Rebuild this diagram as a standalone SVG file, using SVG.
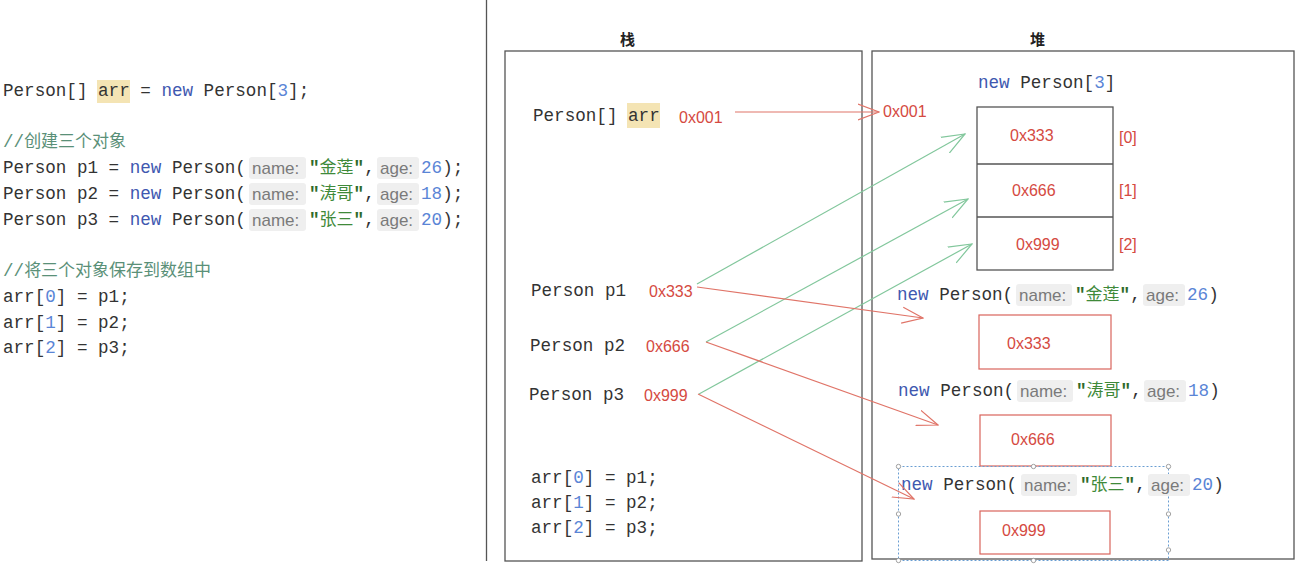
<svg xmlns="http://www.w3.org/2000/svg" width="1303" height="572" viewBox="0 0 1303 572">
<style>
.m{font-family:"Liberation Mono","Courier New",monospace;font-size:17.6px;fill:#333}
.kw{fill:#4058b0}
.num{fill:#5a85d6}
.str{fill:#3f8a3a}
.q{font-weight:bold;fill:#2f6a2a}
.cjk{font-family:"Noto Sans CJK SC",sans-serif;font-size:17px}
.cm{font-family:"Liberation Mono","Noto Sans CJK SC",monospace;font-size:17.6px;fill:#5a9078}
.hint{font-family:"Liberation Sans","Noto Sans",sans-serif;font-size:17px;fill:#7a7a7a}
.hbg{fill:#efefef}
.hl{fill:#f4e4b4}
.addr{font-family:"Liberation Sans","Noto Sans",sans-serif;font-size:16px;fill:#d54a42}
.box{fill:none;stroke:#555;stroke-width:1.3}
.rbox{fill:none;stroke:#d9645c;stroke-width:1.2}
.title{font-family:"Noto Sans CJK SC",sans-serif;font-size:15px;font-weight:bold;fill:#222}
.ra{fill:none;stroke:#e07468;stroke-width:1.2}
.ga{fill:none;stroke:#82c79c;stroke-width:1.2}
.sel{fill:none;stroke:#6a9ed2;stroke-width:1;stroke-dasharray:2 2}
.hd{fill:#fff;stroke:#8a8a8a;stroke-width:0.8}
</style>
<defs>
<marker id="mr" markerUnits="userSpaceOnUse" viewBox="0 0 22 18" markerWidth="22" markerHeight="18" refX="21" refY="9" orient="auto"><path d="M0,1 L21,9 L0,17" fill="none" stroke="#e07468" stroke-width="1.2"/></marker>
<marker id="mg" markerUnits="userSpaceOnUse" viewBox="0 0 24 20" markerWidth="24" markerHeight="20" refX="23" refY="10" orient="auto"><path d="M0,1 L23,10 L0,19" fill="none" stroke="#82c79c" stroke-width="1.2"/></marker>
</defs>
<rect width="1303" height="572" fill="#fff"/>

<g id="code">
<rect class="hl" x="97" y="80" width="33" height="23"/>
<text class="m" x="3" y="96" xml:space="preserve">Person[] arr = <tspan class="kw">new</tspan> Person[<tspan class="num">3</tspan>];</text>
<text class="cm" x="3" y="147">//<tspan class="cjk" font-size="17.5">创建三个对象</tspan></text>

<rect class="hbg" x="249" y="157" width="57" height="22" rx="3"/>
<rect class="hbg" x="377" y="157" width="42" height="22" rx="3"/>
<text class="m" x="3" y="173" xml:space="preserve">Person p1 = <tspan class="kw">new</tspan> Person(</text>
<text class="hint" x="252" y="174">name:</text>
<text class="m" x="309" y="173"><tspan class="q">"</tspan><tspan class="cjk str">金莲</tspan><tspan class="q">"</tspan>,</text>
<text class="hint" x="380" y="174">age:</text>
<text class="m" x="421" y="173"><tspan class="num">26</tspan>);</text>

<rect class="hbg" x="249" y="183" width="57" height="22" rx="3"/>
<rect class="hbg" x="377" y="183" width="42" height="22" rx="3"/>
<text class="m" x="3" y="199" xml:space="preserve">Person p2 = <tspan class="kw">new</tspan> Person(</text>
<text class="hint" x="252" y="200">name:</text>
<text class="m" x="309" y="199"><tspan class="q">"</tspan><tspan class="cjk str">涛哥</tspan><tspan class="q">"</tspan>,</text>
<text class="hint" x="380" y="200">age:</text>
<text class="m" x="421" y="199"><tspan class="num">18</tspan>);</text>

<rect class="hbg" x="249" y="209" width="57" height="22" rx="3"/>
<rect class="hbg" x="377" y="209" width="42" height="22" rx="3"/>
<text class="m" x="3" y="225" xml:space="preserve">Person p3 = <tspan class="kw">new</tspan> Person(</text>
<text class="hint" x="252" y="226">name:</text>
<text class="m" x="309" y="225"><tspan class="q">"</tspan><tspan class="cjk str">张三</tspan><tspan class="q">"</tspan>,</text>
<text class="hint" x="380" y="226">age:</text>
<text class="m" x="421" y="225"><tspan class="num">20</tspan>);</text>

<text class="cm" x="3" y="276">//<tspan class="cjk" font-size="18.5">将三个对象保存到数组中</tspan></text>
<text class="m" x="3" y="302" xml:space="preserve">arr[<tspan class="num">0</tspan>] = p1;</text>
<text class="m" x="3" y="328" xml:space="preserve">arr[<tspan class="num">1</tspan>] = p2;</text>
<text class="m" x="3" y="353" xml:space="preserve">arr[<tspan class="num">2</tspan>] = p3;</text>
</g>

<line x1="486.5" y1="0" x2="486.5" y2="561" stroke="#555" stroke-width="1.3"/>

<g id="stack">
<text class="title" x="620" y="45">栈</text>
<rect class="box" x="505" y="51" width="357" height="510"/>
<rect class="hl" x="627" y="103" width="33" height="25"/>
<text class="m" x="533" y="121" xml:space="preserve">Person[] arr</text>
<text class="addr" x="679" y="123">0x001</text>
<text class="m" x="531" y="296" xml:space="preserve">Person p1</text>
<text class="addr" x="649" y="297">0x333</text>
<text class="m" x="530" y="351" xml:space="preserve">Person p2</text>
<text class="addr" x="646" y="352">0x666</text>
<text class="m" x="529" y="400" xml:space="preserve">Person p3</text>
<text class="addr" x="644" y="401">0x999</text>
<text class="m" x="531" y="483" xml:space="preserve">arr[<tspan class="num">0</tspan>] = p1;</text>
<text class="m" x="531" y="508" xml:space="preserve">arr[<tspan class="num">1</tspan>] = p2;</text>
<text class="m" x="531" y="533" xml:space="preserve">arr[<tspan class="num">2</tspan>] = p3;</text>
</g>

<g id="heap">
<text class="title" x="1030" y="45">堆</text>
<rect class="box" x="872" y="51" width="422" height="508"/>
<text class="addr" x="883" y="117">0x001</text>
<text class="m" x="978" y="88" xml:space="preserve"><tspan class="kw">new</tspan> Person[<tspan class="num">3</tspan>]</text>
</g>

<g id="array">
<rect class="box" x="977" y="107" width="136" height="163"/>
<line class="box" x1="977" y1="164" x2="1113" y2="164"/>
<line class="box" x1="977" y1="217" x2="1113" y2="217"/>
<text class="addr" x="1010" y="141">0x333</text>
<text class="addr" x="1012" y="196">0x666</text>
<text class="addr" x="1016" y="250">0x999</text>
<text class="addr" x="1119" y="143">[0]</text>
<text class="addr" x="1119" y="196">[1]</text>
<text class="addr" x="1119" y="250">[2]</text>
</g>

<g id="obj1">
<text class="m" x="897" y="300" xml:space="preserve"><tspan class="kw">new</tspan> Person(</text>
<rect class="hbg" x="1016" y="284" width="56" height="22" rx="3"/>
<text class="hint" x="1019" y="301">name:</text>
<text class="m" x="1075" y="300"><tspan class="q">"</tspan><tspan class="cjk str">金莲</tspan><tspan class="q">"</tspan>,</text>
<rect class="hbg" x="1143" y="284" width="42" height="22" rx="3"/>
<text class="hint" x="1146" y="301">age:</text>
<text class="m" x="1187" y="300"><tspan class="num">26</tspan>)</text>
<rect class="rbox" x="979" y="315" width="132" height="54"/>
<text class="addr" x="1007" y="349">0x333</text>
</g>

<g id="obj2">
<text class="m" x="898" y="396" xml:space="preserve"><tspan class="kw">new</tspan> Person(</text>
<rect class="hbg" x="1017" y="380" width="56" height="22" rx="3"/>
<text class="hint" x="1020" y="397">name:</text>
<text class="m" x="1076" y="396"><tspan class="q">"</tspan><tspan class="cjk str">涛哥</tspan><tspan class="q">"</tspan>,</text>
<rect class="hbg" x="1144" y="380" width="42" height="22" rx="3"/>
<text class="hint" x="1147" y="397">age:</text>
<text class="m" x="1188" y="396"><tspan class="num">18</tspan>)</text>
<rect class="rbox" x="980" y="415" width="131" height="51"/>
<text class="addr" x="1011" y="445">0x666</text>
</g>

<g id="obj3">
<rect class="sel" x="898.5" y="466.5" width="270" height="94"/>
<circle class="hd" cx="898.5" cy="466.5" r="2.2"/>
<circle class="hd" cx="1033.5" cy="466.5" r="2.2"/>
<circle class="hd" cx="1168.5" cy="466.5" r="2.2"/>
<circle class="hd" cx="898.5" cy="514" r="2.2"/>
<circle class="hd" cx="1168.5" cy="514" r="2.2"/>
<circle class="hd" cx="898.5" cy="560.5" r="2.2"/>
<circle class="hd" cx="1033.5" cy="560.5" r="2.2"/>
<circle class="hd" cx="1168.5" cy="550" r="2.2"/>
<text class="m" x="901" y="490" xml:space="preserve"><tspan class="kw">new</tspan> Person(</text>
<rect class="hbg" x="1021" y="474" width="56" height="22" rx="3"/>
<text class="hint" x="1024" y="491">name:</text>
<text class="m" x="1080" y="490"><tspan class="q">"</tspan><tspan class="cjk str">张三</tspan><tspan class="q">"</tspan>,</text>
<rect class="hbg" x="1148" y="474" width="42" height="22" rx="3"/>
<text class="hint" x="1151" y="491">age:</text>
<text class="m" x="1192" y="490"><tspan class="num">20</tspan>)</text>
<rect class="rbox" x="980" y="511" width="130" height="43"/>
<text class="addr" x="1002" y="536">0x999</text>
</g>

<g id="connectors">
<line class="ra" x1="735" y1="112" x2="879" y2="112" marker-end="url(#mr)"/>
<line class="ga" x1="697" y1="284" x2="965" y2="134" marker-end="url(#mg)"/>
<line class="ga" x1="706" y1="342" x2="968" y2="199" marker-end="url(#mg)"/>
<line class="ga" x1="699" y1="394" x2="972" y2="244" marker-end="url(#mg)"/>
<line class="ra" x1="697" y1="287" x2="923" y2="318" marker-end="url(#mr)"/>
<line class="ra" x1="706" y1="342" x2="938" y2="425" marker-end="url(#mr)"/>
<line class="ra" x1="698" y1="394" x2="914" y2="499" marker-end="url(#mr)"/>
</g>
</svg>
